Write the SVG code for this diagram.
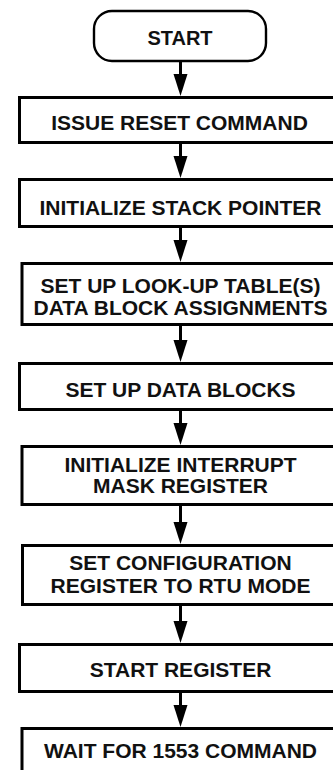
<svg xmlns="http://www.w3.org/2000/svg" width="333" height="770" viewBox="0 0 333 770">
<style>
.box{fill:#fff;stroke:#000;stroke-width:3}
.term{fill:#fff;stroke:#000;stroke-width:2.4}
.t{font-family:"Liberation Sans",Arial,sans-serif;font-weight:bold;font-size:21px;text-anchor:middle;fill:#111}
.ln{stroke:#000;stroke-width:3;fill:none}
.ah{fill:#000}
</style>
<rect width="333" height="770" fill="#fff"/>
<g id="connectors">
<line class="ln" x1="180.5" y1="61" x2="180.5" y2="76"/><polygon class="ah" points="173.5,74 187.5,74 180.5,96"/>
<line class="ln" x1="180.5" y1="144" x2="180.5" y2="158"/><polygon class="ah" points="173.5,156 187.5,156 180.5,178"/>
<line class="ln" x1="180.5" y1="228" x2="180.5" y2="242"/><polygon class="ah" points="173.5,240 187.5,240 180.5,262"/>
<line class="ln" x1="180.5" y1="326" x2="180.5" y2="342"/><polygon class="ah" points="173.5,340 187.5,340 180.5,362"/>
<line class="ln" x1="180.5" y1="411" x2="180.5" y2="425"/><polygon class="ah" points="173.5,423 187.5,423 180.5,445"/>
<line class="ln" x1="180.5" y1="506" x2="180.5" y2="524"/><polygon class="ah" points="173.5,522 187.5,522 180.5,544"/>
<line class="ln" x1="180.5" y1="606" x2="180.5" y2="623"/><polygon class="ah" points="173.5,621 187.5,621 180.5,643"/>
<line class="ln" x1="180.5" y1="693" x2="180.5" y2="707"/><polygon class="ah" points="173.5,705 187.5,705 180.5,727"/>
</g>
<g id="start">
<rect class="term" x="94" y="11" width="172" height="50" rx="18" ry="18"/>
<text class="t" x="180" y="45" style="font-size:20px">START</text>
</g>
<g id="issue-reset">
<rect class="box" x="19.5" y="97.5" width="330" height="45"/>
<text class="t" x="179.5" y="130">ISSUE RESET COMMAND</text>
</g>
<g id="init-stack">
<rect class="box" x="19.5" y="179.5" width="330" height="47"/>
<text class="t" x="180.5" y="215">INITIALIZE STACK POINTER</text>
</g>
<g id="lookup">
<rect class="box" x="22" y="263.5" width="330" height="61"/>
<text class="t" x="180.5" y="293">SET UP LOOK-UP TABLE(S)</text>
<text class="t" x="180.5" y="315">DATA BLOCK ASSIGNMENTS</text>
</g>
<g id="data-blocks">
<rect class="box" x="19.5" y="363.5" width="330" height="46"/>
<text class="t" x="180.5" y="397">SET UP DATA BLOCKS</text>
</g>
<g id="interrupt-mask">
<rect class="box" x="22" y="446.5" width="330" height="58"/>
<text class="t" x="180.5" y="472">INITIALIZE INTERRUPT</text>
<text class="t" x="180.5" y="493">MASK REGISTER</text>
</g>
<g id="config">
<rect class="box" x="22.5" y="545.5" width="330" height="59"/>
<text class="t" x="180.5" y="570">SET CONFIGURATION</text>
<text class="t" x="180.5" y="593">REGISTER TO RTU MODE</text>
</g>
<g id="start-register">
<rect class="box" x="19.5" y="644.5" width="330" height="47"/>
<text class="t" x="180.5" y="677">START REGISTER</text>
</g>
<g id="wait">
<rect class="box" x="22" y="728.5" width="330" height="50"/>
<text class="t" x="180.5" y="758">WAIT FOR 1553 COMMAND</text>
</g>
</svg>
